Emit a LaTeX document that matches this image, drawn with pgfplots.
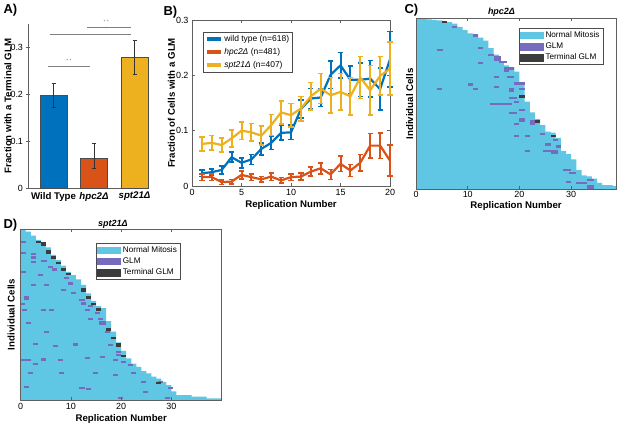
\documentclass[border=0pt]{standalone}
\usepackage{fontspec}
\setmainfont{Liberation Sans}
\usepackage{pgfplots}
\pgfplotsset{compat=1.18}
\definecolor{mblue}{RGB}{0,114,189}
\definecolor{morange}{RGB}{217,83,25}
\definecolor{myellow}{RGB}{237,177,32}
\definecolor{ncyan}{RGB}{95,198,227}
\definecolor{glm}{RGB}{118,108,190}
\definecolor{tglm}{RGB}{60,60,60}
\definecolor{axgray}{RGB}{95,95,95}
\pgfplotsset{
  every axis/.append style={
    scale only axis,
    /pgf/number format/assume math mode=true,
    tick label style={font=\fontsize{9}{10}\selectfont},
    label style={font=\bfseries\fontsize{9.7}{11}\selectfont},
    axis line style={axgray, line width=0.5bp},
    tick style={axgray, line width=0.5bp},
    tick align=inside,
    major tick length=3bp,
    every axis title shift=0pt,
  }
}
\begin{document}
\begin{tikzpicture}
\path[use as bounding box] (0,0) rectangle (617bp,427bp);
% ---------------- A ----------------
\begin{axis}[at={(28bp,239bp)}, anchor=south west, width=120bp, height=164bp,
  axis lines=left, axis line style={-},
  xmin=0.37, xmax=3.333, ymin=0, ymax=0.35,
  xtick={1,2,3}, xticklabels={Wild Type,\textit{hpc2Δ},\textit{spt21Δ}},
  xticklabel style={font=\bfseries\fontsize{9.7}{11}\selectfont, yshift=1bp},
  ytick={0,0.1,0.2,0.3}, yticklabels={0,0.1,0.2,0.3},
  ylabel={Fraction with a Terminal GLM},
  ylabel style={at={(axis description cs:-0.167,0.5)}, anchor=center},
  clip=false]
\addplot[ybar, bar width=0.667, bar shift=0pt, fill=mblue, draw=black!70, line width=0.4bp,
  error bars/.cd, y dir=both, y explicit, error bar style={black!80, line width=0.5bp},
  error mark options={rotate=90, mark size=2bp, black!80, line width=0.5bp}]
  coordinates {(1,0.197) += (0,0.026) -= (0,0.025)};
\addplot[ybar, bar width=0.667, bar shift=0pt, fill=morange, draw=black!70, line width=0.4bp,
  error bars/.cd, y dir=both, y explicit, error bar style={black!80, line width=0.5bp},
  error mark options={rotate=90, mark size=2bp, black!80, line width=0.5bp}]
  coordinates {(2,0.063) += (0,0.032) -= (0,0.020)};
\addplot[ybar, bar width=0.667, bar shift=0pt, fill=myellow, draw=black!70, line width=0.4bp,
  error bars/.cd, y dir=both, y explicit, error bar style={black!80, line width=0.5bp},
  error mark options={rotate=90, mark size=2bp, black!80, line width=0.5bp}]
  coordinates {(3,0.280) += (0,0.035) -= (0,0.038)};
\addplot[gray, line width=0.8bp] coordinates {(0.864,0.26) (1.90,0.26)};
\addplot[gray, line width=0.8bp] coordinates {(0.913,0.328) (2.913,0.328)};
\addplot[gray, line width=0.8bp] coordinates {(1.827,0.343) (2.913,0.343)};
\node[gray, font=\fontsize{5}{5}\selectfont, anchor=south] at (axis cs:1.38,0.261) {* *};
\node[gray, font=\fontsize{5}{5}\selectfont, anchor=south] at (axis cs:2.30,0.329) {*};
\node[gray, font=\fontsize{5}{5}\selectfont, anchor=south] at (axis cs:2.30,0.344) {* *};
\end{axis}
% ---------------- B ----------------
\begin{axis}[at={(192bp,241bp)}, anchor=south west, width=198bp, height=166bp,
  xmin=0, xmax=20, ymin=0, ymax=0.3,
  xtick={0,5,10,15,20}, ytick={0,0.1,0.2,0.3}, yticklabels={0,0.1,0.2,0.3},
  xlabel={Replication Number}, ylabel={Fraction of Cells with a GLM},
  xlabel style={at={(axis description cs:0.5,-0.1145)}, anchor=center},
  ylabel style={at={(axis description cs:-0.1035,0.5)}, anchor=center},
  legend style={at={(axis description cs:0.056,0.93)}, anchor=north west,
    font=\fontsize{8.5}{10}\selectfont, draw=black!70, line width=0.4bp,
    row sep=1.2bp, inner sep=1.5bp, cells={anchor=west}},
  legend image code/.code={\draw[#1, line width=3.6bp] (0bp,0bp) -- (14bp,0bp);},
  clip=false]
\addplot[mblue, line width=2.2bp, forget plot,
  error bars/.cd, y dir=both, y explicit, error bar style={mblue, line width=2bp},
  error mark options={rotate=90, mark size=2.6bp, mblue, line width=1.6bp}]
  coordinates {
  (1,0.023) +- (0,0.006) (2,0.025) +- (0,0.006) (3,0.029) +- (0,0.007)
  (4,0.052) +- (0,0.009) (5,0.042) +- (0,0.009) (6,0.048) +- (0,0.009)
  (7,0.067) +- (0,0.011) (8,0.078) +- (0,0.012) (9,0.096) +- (0,0.013)
  (10,0.097) +- (0,0.013) (11,0.139) +- (0,0.016) (12,0.158) +- (0,0.018)
  (13,0.160) +- (0,0.016) (14,0.201) +- (0,0.025) (15,0.218) +- (0,0.023)
  (16,0.192) +- (0,0.025) (17,0.192) +- (0,0.030) (18,0.194) +- (0,0.033)
  (19,0.175) +- (0,0.038) (20,0.229) +- (0,0.050)};
\addplot[morange, line width=2.2bp, forget plot,
  error bars/.cd, y dir=both, y explicit, error bar style={morange, line width=2bp},
  error mark options={rotate=90, mark size=2.6bp, morange, line width=1.6bp}]
  coordinates {
  (1,0.016) +- (0,0.006) (2,0.016) +- (0,0.006) (3,0.007) +- (0,0.004)
  (4,0.008) +- (0,0.004) (5,0.020) +- (0,0.007) (6,0.016) +- (0,0.006)
  (7,0.012) +- (0,0.005) (8,0.017) +- (0,0.007) (9,0.010) +- (0,0.005)
  (10,0.016) +- (0,0.006) (11,0.017) +- (0,0.006) (12,0.026) +- (0,0.008)
  (13,0.032) +- (0,0.010) (14,0.021) +- (0,0.009) (15,0.040) +- (0,0.014)
  (16,0.028) +- (0,0.011) (17,0.042) +- (0,0.015) (18,0.073) +- (0,0.022)
  (19,0.073) +- (0,0.023) (20,0.046) +- (0,0.028)};
\addplot[myellow, line width=2.2bp, forget plot,
  error bars/.cd, y dir=both, y explicit, error bar style={myellow, line width=2bp},
  error mark options={rotate=90, mark size=2.6bp, myellow, line width=1.6bp}]
  coordinates {
  (1,0.076) +- (0,0.013) (2,0.078) +- (0,0.013) (3,0.074) +- (0,0.013)
  (4,0.086) +- (0,0.015) (5,0.100) +- (0,0.016) (6,0.097) +- (0,0.016)
  (7,0.091) +- (0,0.017) (8,0.110) +- (0,0.019) (9,0.133) +- (0,0.021)
  (10,0.128) +- (0,0.021) (11,0.140) +- (0,0.022) (12,0.162) +- (0,0.025)
  (13,0.176) +- (0,0.027) (14,0.164) +- (0,0.032) (15,0.170) +- (0,0.033)
  (16,0.162) +- (0,0.034) (17,0.196) +- (0,0.038) (18,0.173) +- (0,0.045)
  (19,0.199) +- (0,0.035) (20,0.212) +- (0,0.048)};
\addlegendimage{mblue}\addlegendentry{wild type (n=618)}
\addlegendimage{morange}\addlegendentry{\textit{hpc2Δ} (n=481)}
\addlegendimage{myellow}\addlegendentry{\textit{spt21Δ} (n=407)}
\end{axis}
% ---------------- C ----------------
\begin{axis}[at={(416bp,237.7bp)}, anchor=south west, width=200.2bp, height=171bp,
  xmin=0, xmax=38.7, ymin=0, ymax=80, xtick={0,10,20,30}, ytick=\empty,
  axis on top, unbounded coords=jump,
  xticklabel style={yshift=1.5bp},
  xlabel={Replication Number}, ylabel={Individual Cells},
  xlabel style={at={(axis description cs:0.5,-0.098)}, anchor=center},
  ylabel style={at={(axis description cs:-0.032,0.5)}, anchor=center},
  title={\textit{hpc2Δ}},
  title style={at={(axis description cs:0.427,1.037)}, anchor=center, font=\bfseries\fontsize{9}{10}\selectfont},
  legend style={at={(axis description cs:0.513,0.943)}, anchor=north west,
    font=\fontsize{8.2}{9}\selectfont, draw=black!70, line width=0.4bp,
    row sep=0bp, inner sep=1.2bp, cells={anchor=west}},
  legend image code/.code={\fill[#1] (0bp,-3.3bp) rectangle (23bp,3.3bp);}]
\addplot[fill=ncyan, draw=none, const plot, forget plot] coordinates {
  (0,80) (1,80) (2,79.5) (3,79.3) (4,79) (5,78.7) (6,78.2) (7,77.5) (8,76) (9,74.5)
  (10,73) (11,72.5) (12,71) (13,69.5) (14,66) (15,63) (16,60) (17,58) (18,57) (19,55)
  (20,50) (21,41) (22,36) (23,33) (24,30) (25,27) (26,26.5) (27,24) (28,18) (29,16.5)
  (30,14) (31,9) (32,6.5) (33,6) (34,5) (35,3) (36,2) (37,2) (38,1.5) (38.7,1.5)} \closedcycle;
\addplot[glm, line width=2.2bp, forget plot] coordinates {
  (7,76)(8,76)(nan,nan) (11,72)(12,72)(nan,nan) (4,65)(5.3,65)(nan,nan)
  (12,66)(13,66)(nan,nan) (14,63)(15,63)(nan,nan) (15,61.7)(16.5,61.7)(nan,nan)
  (15,60.7)(16.5,60.7)(nan,nan) (16,59.5)(17.5,59.5)(nan,nan) (12,59)(13,59)(nan,nan)
  (17,56.5)(19,56.5)(nan,nan) (17,55.3)(18,55.3)(nan,nan) (15,52.4)(16,52.4)(nan,nan)
  (17.5,52.7)(19,52.7)(nan,nan) (19,49.5)(21,49.5)(nan,nan) (10,49)(11,49)(nan,nan)
  (11,47)(12,47)(nan,nan) (4,47)(5,47)(nan,nan) (15,47.8)(16,47.8)(nan,nan)
  (18,46)(19,46)(nan,nan) (18,47)(19,47)(nan,nan) (20,47)(21,47)(nan,nan)
  (18,42.6)(19.5,42.6)(nan,nan) (19,41)(20,41)(nan,nan) (14.3,39.8)(18.5,39.8)(nan,nan)
  (20,37)(21,37)(nan,nan) (18,35.6)(19.5,35.6)(nan,nan) (20,33)(21,33)(nan,nan)
  (20,32)(21,32)(nan,nan) (19,30.6)(20,30.6)(nan,nan) (22,31.7)(23,31.7)(nan,nan)
  (22,30.6)(23,30.6)(nan,nan) (19,25)(20,25)(nan,nan) (21,25)(22,25)(nan,nan)
  (24,26)(25,26)(nan,nan) (25,21)(26,21)(nan,nan) (26.5,23)(27.5,23)(nan,nan)
  (27,20)(28,20)(nan,nan) (21,18)(22,18)(nan,nan) (24.5,18)(27.5,18)(nan,nan)
  (26,17)(27.5,17)(nan,nan) (28.5,9)(30,9)(nan,nan) (29.5,7.5)(31,7.5)(nan,nan)
  (29,3.6)(30,3.6)(nan,nan) (31,3)(32,3)(nan,nan) (32,2.8)(33,2.8)(nan,nan)
  (33,4.4)(34.5,4.4)(nan,nan) (33,1.3)(34.5,1.3)(nan,nan) (33,0.4)(34.5,0.4)};
\addplot[tglm, line width=2.2bp, forget plot] coordinates {
  (5,78.4)(6,78.4)(nan,nan) (20,43.4)(21,43.4)(nan,nan)
  (23,31.7)(24,31.7)(nan,nan) (26,25)(27,25)};
\addlegendimage{ncyan}\addlegendentry{Normal Mitosis}
\addlegendimage{glm}\addlegendentry{GLM}
\addlegendimage{tglm}\addlegendentry{Terminal GLM}
\end{axis}
% ---------------- D ----------------
\begin{axis}[at={(20.7bp,27bp)}, anchor=south west, width=201bp, height=170.7bp,
  xmin=0, xmax=40, ymin=0, ymax=80, xtick={0,10,20,30}, ytick=\empty,
  axis on top, unbounded coords=jump,
  xlabel={Replication Number}, ylabel={Individual Cells},
  xlabel style={at={(axis description cs:0.5,-0.111)}, anchor=center},
  ylabel style={at={(axis description cs:-0.048,0.5)}, anchor=center},
  title={\textit{spt21Δ}},
  title style={at={(axis description cs:0.459,1.031)}, anchor=center, font=\bfseries\fontsize{9}{10}\selectfont},
  legend style={at={(axis description cs:0.375,0.92)}, anchor=north west,
    font=\fontsize{8.2}{9}\selectfont, draw=black!70, line width=0.4bp,
    row sep=0bp, inner sep=1.2bp, cells={anchor=west}},
  legend image code/.code={\fill[#1] (0bp,-3.3bp) rectangle (23bp,3.3bp);}]
\addplot[fill=ncyan, draw=none, const plot, forget plot] coordinates {
  (0,80) (1,78.9) (2,77) (3,75) (4,73.5) (5,71.5) (6,68) (7,65.5) (8,63) (9,60)
  (10,58.5) (11,56.5) (12,54) (13,50) (14,46.5) (15,44) (16,43) (17,37) (18,32) (19,27)
  (20,23) (21,19.5) (22,17) (23,15.5) (24,13.5) (25,12.5) (26,11) (27,10) (28,8.5) (29,7)
  (30,4) (31,2.3) (32,2.3) (33,2.3) (34,1.6) (35,1.6) (36,1.6) (37,0.8) (38,0.8) (40,0.8)} \closedcycle;
\addplot[glm, line width=2.2bp, forget plot] coordinates {
  (0,74)(1,74)(nan,nan) (0,69)(1,69)(nan,nan) (2,68.6)(3,68.6)(nan,nan)
  (2,66.8)(3,66.8)(nan,nan) (2,64.7)(3,64.7)(nan,nan) (4,65.2)(5.3,65.2)(nan,nan)
  (5.5,62.4)(6.5,62.4)(nan,nan) (6.2,61.2)(7.2,61.2)(nan,nan) (0,60)(1,60)(nan,nan)
  (3.4,58.5)(4.4,58.5)(nan,nan) (8.7,57)(9.7,57)(nan,nan) (9.5,54.6)(10.5,54.6)(nan,nan)
  (2,53.8)(3,53.8)(nan,nan) (4.7,53.8)(5.7,53.8)(nan,nan) (0.7,48.4)(1.7,48.4)(nan,nan)
  (0.7,47.4)(1.7,47.4)(nan,nan) (8,51.5)(9,51.5)(nan,nan) (10,50)(11,50)(nan,nan)
  (11.7,46.8)(12.7,46.8)(nan,nan) (12,45.2)(13,45.2)(nan,nan) (13.4,44)(14.4,44)(nan,nan)
  (0,45)(0.8,45)(nan,nan) (0.2,42)(1.2,42)(nan,nan) (4,42)(5,42)(nan,nan)
  (5.7,42)(6.7,42)(nan,nan) (12.7,42)(13.7,42)(nan,nan) (14.7,40.9)(15.7,40.9)(nan,nan)
  (13.4,38)(14.4,38)(nan,nan) (15.4,38)(16.4,38)(nan,nan) (15.6,36.7)(17,36.7)(nan,nan)
  (15.6,35.7)(17,35.7)(nan,nan) (1,35.9)(2,35.9)(nan,nan) (4.7,32)(5.7,32)(nan,nan)
  (16.7,32)(17.7,32)(nan,nan) (2.4,26.2)(3.4,26.2)(nan,nan) (6.4,25.4)(7.4,25.4)(nan,nan)
  (10.4,26)(11.4,26)(nan,nan) (17.4,25.7)(18.4,25.7)(nan,nan) (19,22.4)(20,22.4)(nan,nan)
  (19,21)(20,21)(nan,nan) (18.4,18.7)(19.4,18.7)(nan,nan) (20,17.9)(21,17.9)(nan,nan)
  (0,18.7)(2,18.7)(nan,nan) (4,19)(5,19)(nan,nan) (7.4,18.7)(8.4,18.7)(nan,nan)
  (12.7,19.5)(13.7,19.5)(nan,nan) (15.7,20.3)(16.7,20.3)(nan,nan) (21.4,16.4)(22.4,16.4)(nan,nan)
  (22,12.5)(23,12.5)(nan,nan) (2.4,16.8)(3.4,16.8)(nan,nan) (7.7,12.5)(8.7,12.5)(nan,nan)
  (14.4,12.5)(15.4,12.5)(nan,nan) (18.4,11.7)(19.4,11.7)(nan,nan) (24,8.6)(25,8.6)(nan,nan)
  (27.4,8.6)(28.4,8.6)(nan,nan) (29.4,5.5)(30.4,5.5)(nan,nan) (1.4,12.8)(2.4,12.8)(nan,nan)
  (13,5)(14,5)(nan,nan) (0.7,6.2)(1.7,6.2)(nan,nan) (19.4,0.8)(20.4,0.8)(nan,nan)
  (28.7,0.8)(29.7,0.8)(nan,nan) (24.4,3.9)(25.4,3.9)(nan,nan) (11.7,5.5)(12.7,5.5)};
\addplot[tglm, line width=2.2bp, forget plot] coordinates {
  (3,74)(4,74)(nan,nan) (4,72.5)(5,72.5)(nan,nan) (4,73.3)(5,73.3)(nan,nan)
  (5,69)(6,69)(nan,nan) (5,70)(6,70)(nan,nan) (6,66.8)(7,66.8)(nan,nan)
  (7,64.3)(8,64.3)(nan,nan) (8,61.2)(9,61.2)(nan,nan) (9,59)(10,59)(nan,nan)
  (12,51)(13,51)(nan,nan) (12,52)(13,52)(nan,nan) (13,48)(14,48)(nan,nan)
  (14,45)(15,45)(nan,nan) (15,42.4)(16,42.4)(nan,nan) (17,33)(18,33)(nan,nan)
  (18,29)(19,29)(nan,nan) (19,26.2)(20,26.2)(nan,nan) (19,25.2)(20,25.2)(nan,nan)
  (20,20.6)(21,20.6)(nan,nan) (27,8)(28,8)};
\addlegendimage{ncyan}\addlegendentry{Normal Mitosis}
\addlegendimage{glm}\addlegendentry{GLM}
\addlegendimage{tglm}\addlegendentry{Terminal GLM}
\end{axis}
% panel letters
\node[anchor=west, font=\bfseries\fontsize{13}{13}\selectfont] at (0bp,417bp) {A)};
\node[anchor=west, font=\bfseries\fontsize{13}{13}\selectfont] at (160bp,415bp) {B)};
\node[anchor=west, font=\bfseries\fontsize{13}{13}\selectfont] at (401bp,417bp) {C)};
\node[anchor=west, font=\bfseries\fontsize{13}{13}\selectfont] at (0bp,202bp) {D)};
\end{tikzpicture}
\end{document}
